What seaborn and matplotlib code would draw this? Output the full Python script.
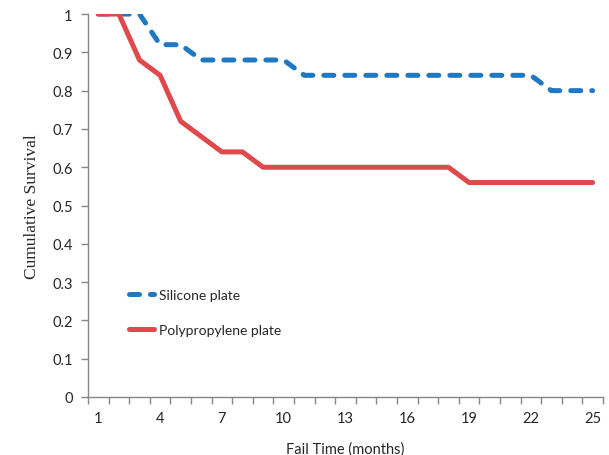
import numpy as np
import pandas as pd
import matplotlib
matplotlib.use("Agg")
import matplotlib.pyplot as plt
import seaborn as sns

# months 1..25 and survival
months = list(range(1, 26))
silicone = [1, 1, 1, 0.92, 0.92, 0.88, 0.88, 0.88, 0.88, 0.88, 0.84, 0.84, 0.84,
            0.84, 0.84, 0.84, 0.84, 0.84, 0.84, 0.84, 0.84, 0.84, 0.80, 0.80, 0.80]
polyprop = [1, 1, 0.88, 0.84, 0.72, 0.68, 0.64, 0.64, 0.60, 0.60, 0.60, 0.60, 0.60,
            0.60, 0.60, 0.60, 0.60, 0.60, 0.56, 0.56, 0.56, 0.56, 0.56, 0.56, 0.56]
series_names = ["Silicone plate", "Polypropylene plate"]
xtick_labels = [1, 4, 7, 10, 13, 16, 19, 22, 25]

df = pd.DataFrame({
    "month": months * 2,
    "survival": silicone + polyprop,
    "plate": [series_names[0]] * len(months) + [series_names[1]] * len(months),
})

sns.set_style("white")
plt.rcParams["font.family"] = ["Lato", "DejaVu Sans"]

fig = plt.figure(figsize=(6.09, 4.56), dpi=100)
ax = fig.add_axes([0.1445, 0.1272, 0.8455, 0.8398])

colors = {series_names[0]: "#1f78c1", series_names[1]: "#e0494c"}
sns.lineplot(data=df, x="month", y="survival", hue="plate", palette=colors,
             linewidth=3.6, ax=ax, legend=True)
dash = [2.0, 2.2]
ax.lines[0].set_dashes(dash)
ax.lines[0].set_dash_capstyle("round")
ax.lines[1].set_solid_capstyle("round")

ax.set_xlim(0.5, 25.5)
ax.set_ylim(0, 1)
ax.set_xticks(np.arange(0.5, 26, 1))
ax.set_xticklabels([])
ax.set_xticks(xtick_labels, minor=True)
ax.set_xticklabels([str(v) for v in xtick_labels], minor=True)
ax.tick_params(axis="x", which="major", direction="out", length=5, width=1, color="#868686", bottom=True)
ax.tick_params(axis="x", which="minor", length=0, pad=10, labelsize=10.5, labelcolor="#262626")
ax.set_yticks(np.round(np.arange(0, 1.01, 0.1), 1))
ax.set_yticklabels(["0", "0.1", "0.2", "0.3", "0.4", "0.5", "0.6", "0.7", "0.8", "0.9", "1"])
ax.tick_params(axis="y", direction="out", length=5, width=1, color="#868686", left=True,
               labelsize=10.5, labelcolor="#262626", pad=6)

for s in ["top", "right"]:
    ax.spines[s].set_visible(False)
for s in ["left", "bottom"]:
    ax.spines[s].set_color("#868686")
    ax.spines[s].set_linewidth(1)

ax.set_xlabel("Fail Time (months)", fontsize=10.5, color="#262626", labelpad=12)
ax.set_ylabel("Cumulative Survival", fontsize=12.5, color="#262626",
              family=["Liberation Serif", "DejaVu Serif"], labelpad=9)

handles, labels = ax.get_legend_handles_labels()
leg = ax.legend(handles, labels, frameon=False, loc="center left",
                bbox_to_anchor=(0.055, 0.221), fontsize=10, handlelength=1.8,
                handletextpad=0.4, labelspacing=1.7)
leg.get_lines()[0].set_dashes(dash)
leg.get_lines()[0].set_dash_capstyle("round")
for t in leg.get_texts():
    t.set_color("#262626")

fig.savefig("out.png", dpi=100)
